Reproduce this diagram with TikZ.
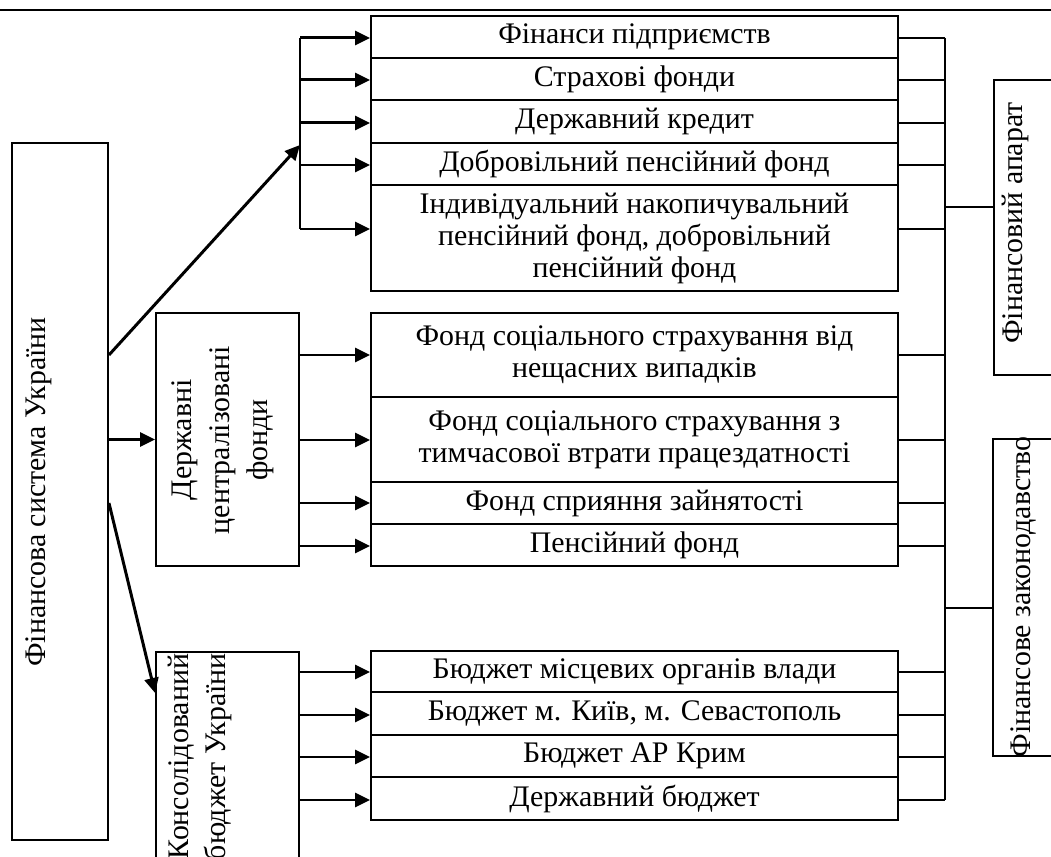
\documentclass[tikz,border=0pt]{standalone}
\usepackage{fontspec}
\setmainfont{Liberation Serif}
\usetikzlibrary{arrows.meta}

\tikzset{
	box/.style={draw, line width=1.1pt, inner sep=0pt},
	row/.style={box, minimum width=10.54cm, align=center, font=\fontsize{17}{18.2}\selectfont},
	arr/.style={line width=1.7pt, -{Triangle[length=0.3cm, width=0.28cm]}},
	lnk/.style={line width=1.1pt},
	brk/.style={line width=1.4pt},
	vtext/.style={rotate=90, align=center, inner sep=0pt, font=\fontsize{17}{21.5}\selectfont}
}

\begin{document}
\begin{tikzpicture}[x=0.02cm, y=-0.02cm]

		\useasboundingbox (0,0) rectangle (1051,857);
		\clip (0,0) rectangle (1051,857);

		\draw[lnk] (0,10) -- (1051,10);

		\node[box, minimum width=1.92cm, minimum height=13.94cm] (sys) at (60,491.5) {};
		\node[vtext] (sys-t) at (39,492) {Фінансова система України};

		\node[box, minimum width=2.86cm, minimum height=5.06cm] (dcf) at (227.5,439.5) {};
		\node[vtext] (dcf-t) at (223,440) {Державні\\централізовані\\фонди};

		\node[box, minimum width=2.86cm, minimum height=6cm, anchor=north] (kons) at (227.5,651) {};
		\node[vtext, anchor=east] (kons-t) at (200,653) {Консолідований\\бюджет України};

		\node[box, minimum width=1.92cm, minimum height=5.9cm] (app) at (1042,227.5) {};
		\node[vtext] (app-t) at (1015,223) {Фінансовий апарат};

		\node[box, minimum width=1.94cm, minimum height=6.34cm] (zak) at (1041.5,597.5) {};
		\node[vtext] (zak-t) at (1023,597) {Фінансове законодавство};

		\coordinate (bt) at (945,38);

		\foreach \i / \y / \h / \a / \t in {
			1/37/42/38/{Фінанси підприємств},
			2/79/42/80/{Страхові фонди},
			3/121.5/43/123/{Державний кредит},
			4/164/42/165/{Добровільний пенсійний фонд},
			5/238/106/229/{Індивідуальний накопичувальний\\пенсійний фонд, добровільний\\пенсійний фонд},
			6/355/84/355/{Фонд соціального страхування від\\нещасних випадків},
			7/439.5/85/440/{Фонд соціального страхування з\\тимчасової втрати працездатності},
			8/503/42/503/{Фонд сприяння зайнятості},
			9/545/42/546/{Пенсійний фонд},
			10/671.5/41/672/{Бюджет місцевих органів влади},
			11/713.5/43/715/{Бюджет м. Київ, м. Севастополь},
			12/756/42/757/{Бюджет АР Крим},
			13/798.5/43/800/{Державний бюджет}} {
		\node[row, minimum height=\h*0.02cm] (r\i) at (634.5,\y) {\t};
		\coordinate (a\i) at (300,\a);
		\draw[arr] (a\i) -- (a\i -| r\i.west);
		\draw[lnk] (a\i -| r\i.east) -- (a\i -| bt);
		}

		\draw[brk] (a1) -- (a5);
		\draw[lnk] (bt) -- (a13 -| bt);

		\coordinate (hub) at (300,145);
		\draw[arr] (sys.east |- r6) -- (hub);
		\draw[arr] (sys.east |- dcf.west) -- (dcf.west);
		\draw[arr] (sys.east |- r8) -- (kons.west |- r10.south);

		\coordinate (b1) at (945,207);
		\coordinate (b2) at (945,608);
		\draw[lnk] (b1) -- (b1 -| app.west);
		\draw[lnk] (b2) -- (b2 -| zak.west);

	\end{tikzpicture}
\end{document}
